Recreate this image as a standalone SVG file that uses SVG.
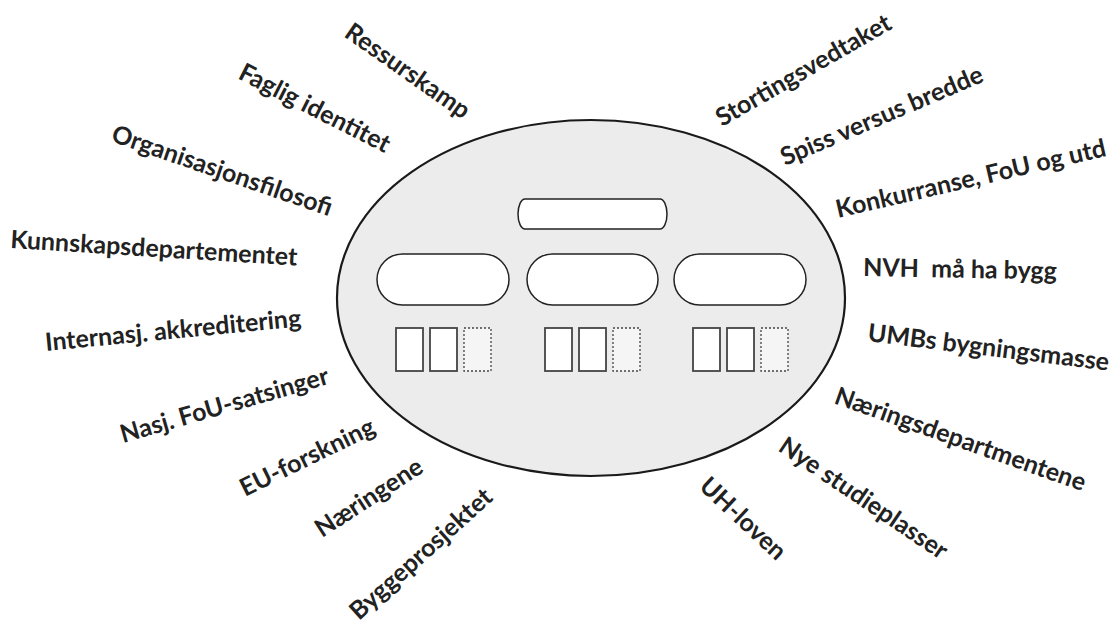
<svg xmlns="http://www.w3.org/2000/svg" width="1111" height="628" viewBox="0 0 1111 628">
<style>
.lbl{font-family:Lato,"Open Sans","Liberation Sans",sans-serif;font-weight:700;font-size:25px;fill:#222;white-space:pre}
.pill{fill:#fff;stroke:#222;stroke-width:1.5}
.box{fill:#fff;stroke:#444;stroke-width:1.8}
.dbox{fill:#f5f5f5;stroke:#444;stroke-width:1.3;stroke-dasharray:2 2}
</style>
<rect width="1111" height="628" fill="#fff"/>
<g id="ellipse"><ellipse cx="591" cy="298" rx="254" ry="178" fill="#ececec" stroke="#1a1a1a" stroke-width="2.2"/></g>
<g id="top-pill"><rect class="pill" x="518" y="199" width="149" height="30" rx="7" ry="15"/></g>
<g id="pill-left"><rect class="pill" x="377" y="254" width="132" height="51" rx="25.5"/></g>
<g id="pill-mid"><rect class="pill" x="527" y="254" width="131" height="51" rx="25.5"/></g>
<g id="pill-right"><rect class="pill" x="674" y="254" width="132" height="51" rx="25.5"/></g>
<g id="boxes-left"><rect class="box" x="396" y="328" width="27" height="43"/><rect class="box" x="430" y="328" width="27" height="43"/><rect class="dbox" x="464" y="328" width="27" height="43"/></g>
<g id="boxes-mid"><rect class="box" x="545" y="328" width="27" height="43"/><rect class="box" x="579" y="328" width="27" height="43"/><rect class="dbox" x="613" y="328" width="27" height="43"/></g>
<g id="boxes-right"><rect class="box" x="693" y="328" width="27" height="43"/><rect class="box" x="727" y="328" width="27" height="43"/><rect class="dbox" x="761" y="328" width="27" height="43"/></g>
<g id="connectors"></g>
<g id="labels">
<g id="l1"><text class="lbl" transform="translate(343,36) rotate(35)">Ressurskamp</text></g>
<g id="l2"><text class="lbl" transform="translate(237,78) rotate(27)">Faglig identitet</text></g>
<g id="l3"><text class="lbl" transform="translate(110,141) rotate(19)">Organisasjonsfilosofi</text></g>
<g id="l4"><text class="lbl" transform="translate(10,248) rotate(3.5)">Kunnskapsdepartementet</text></g>
<g id="l5"><text class="lbl" transform="translate(46,351) rotate(-5.5)">Internasj. akkreditering</text></g>
<g id="l6"><text class="lbl" transform="translate(123,443) rotate(-16)">Nasj. FoU-satsinger</text></g>
<g id="l7"><text class="lbl" transform="translate(245,497) rotate(-26)">EU-forskning</text></g>
<g id="l8"><text class="lbl" transform="translate(322,538) rotate(-33)">Næringene</text></g>
<g id="l9"><text class="lbl" transform="translate(359,621) rotate(-42)">Byggeprosjektet</text></g>
<g id="r1"><text class="lbl" transform="translate(722,127) rotate(-30)">Stortingsvedtaket</text></g>
<g id="r2"><text class="lbl" transform="translate(785,166) rotate(-23)">Spiss versus bredde</text></g>
<g id="r3"><text class="lbl" transform="translate(838,218) rotate(-13)">Konkurranse, FoU og utd</text></g>
<g id="r4"><text class="lbl" transform="translate(863,276) rotate(1)">NVH  må ha bygg</text></g>
<g id="r5"><text class="lbl" transform="translate(867,341) rotate(7)">UMBs bygningsmasse</text></g>
<g id="r6"><text class="lbl" transform="translate(833,403) rotate(19.5)">Næringsdepartmentene</text></g>
<g id="r7"><text class="lbl" transform="translate(777,450) rotate(34)">Nye studieplasser</text></g>
<g id="r8"><text class="lbl" transform="translate(698,488) rotate(43)">UH-loven</text></g>
</g>
</svg>
